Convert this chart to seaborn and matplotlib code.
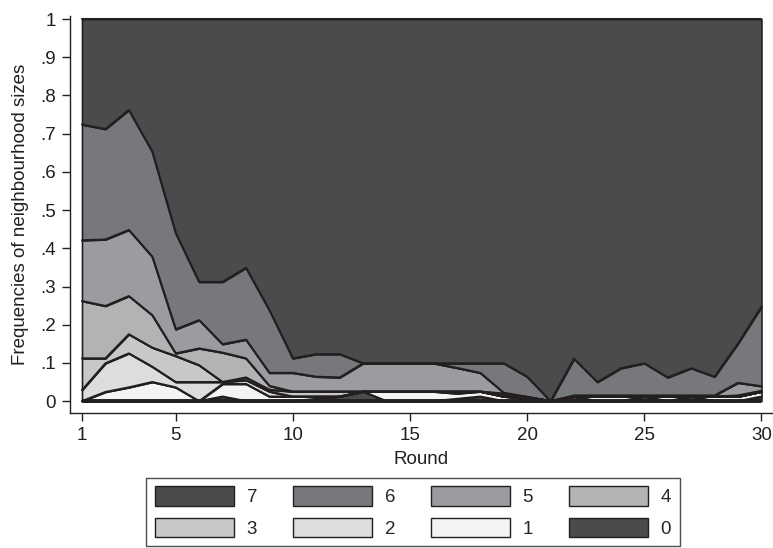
import numpy as np
import pandas as pd
import matplotlib
matplotlib.use("Agg")
import matplotlib.pyplot as plt
import seaborn as sns
from matplotlib.patches import Patch

# share of agents per neighbourhood size, rounds 1..30
rounds = list(range(1, 31))
freq_0 = [0, 0, 0, 0, 0, 0, .012, 0, 0, 0, .006, .012, .025, 0, 0,
          0, .006, .012, 0, 0, 0, .012, 0, 0, .012, 0, .012, 0, 0, .012]
freq_1 = [0, .024, .036, .05, .036, 0, .033, .045, .012, .012, .006, 0, 0, .025, .025,
          .025, .014, .013, .012, .005, 0, 0, .012, .012, 0, .012, 0, .012, .012, .013]
freq_2 = [.029, .075, .089, .04, .014, .05, .005, .01, .013, 0, 0, 0, 0, 0, 0,
          0, .005, 0, 0, .006, 0, 0, 0, 0, 0, 0, 0, 0, 0, 0]
freq_3 = [.083, .013, .05, .05, .068, .044, 0, .007, .005, .013, .013, .013, 0, 0, 0,
          0, 0, 0, .006, 0, 0, 0, 0, 0, 0, 0, 0, 0, 0, 0]
freq_4 = [.15, .137, .1, .085, .007, .044, .077, .05, .01, 0, 0, 0, 0, 0, 0,
          0, 0, 0, .002, 0, 0, 0, 0, 0, 0, 0, 0, 0, .003, .002]
freq_5 = [.159, .174, .173, .153, .063, .074, .022, .049, .034, .049, .039, .037, .074, .074, .074,
          .074, .062, .049, .002, 0, 0, .003, .003, .003, .003, .003, .003, .003, .033, .012]
freq_6 = [.303, .289, .314, .275, .252, .1, .163, .188, .164, .038, .059, .061, 0, 0, 0,
          0, .012, .025, .077, .053, 0, .096, .035, .071, .084, .047, .071, .049, .103, .208]
freq_7 = [.276, .288, .238, .347, .56, .688, .688, .651, .762, .888, .877, .877, .901, .901, .901,
          .901, .901, .901, .901, .936, 1, .889, .95, .914, .901, .938, .914, .936, .849, .753]

sizes = ['0', '1', '2', '3', '4', '5', '6', '7']
fills = ['#4a4b4d', '#f3f4f4', '#dcdddd', '#c7c8c9', '#b2b3b5', '#9b9c9f', '#77787b', '#4a4b4d']
x_ticks = [1, 5, 10, 15, 20, 25, 30]
y_ticks = [0, .1, .2, .3, .4, .5, .6, .7, .8, .9, 1]
y_labels = ['0', '.1', '.2', '.3', '.4', '.5', '.6', '.7', '.8', '.9', '1']

ink = '#231f20'

sns.set_theme(style="ticks")
plt.rcParams['font.family'] = ['Liberation Sans', 'DejaVu Sans']

fig = plt.figure(figsize=(7.73, 5.48), dpi=100)
ax = fig.add_axes([70 / 773, 135 / 548, 702 / 773, 397 / 548])

series = [freq_0, freq_1, freq_2, freq_3, freq_4, freq_5, freq_6, freq_7]
ax.stackplot(rounds, *series, colors=fills, edgecolor=ink, linewidth=1.2)

# boundary lines between the stacked areas
cum = np.cumsum(np.array(series), axis=0)
long = pd.DataFrame({
    'round': np.tile(rounds, len(sizes)),
    'level': cum.ravel(),
    'size': np.repeat(sizes, len(rounds)),
})
sns.lineplot(data=long, x='round', y='level', units='size', estimator=None,
             color=ink, lw=1.5, ax=ax, legend=False)
ax.hlines(0, rounds[0], rounds[-1], color=ink, lw=2.8)

ax.set_xlim(0.488, 30.45)
ax.set_ylim(-0.031, 1.008)
ax.set_xticks(x_ticks)
ax.set_yticks(y_ticks)
ax.set_yticklabels(y_labels)
sns.despine(ax=ax)
for s in ['left', 'bottom']:
    ax.spines[s].set_color(ink)
    ax.spines[s].set_linewidth(1.0)
ax.tick_params(direction='out', length=6, width=1, colors=ink, labelsize=13.5, pad=4)
ax.set_xlabel('Round', fontsize=13.5, color=ink, labelpad=5)
ax.set_ylabel('Frequencies of neighbourhood sizes', fontsize=13.5, color=ink, labelpad=8)

# legend rows read 7 6 5 4 / 3 2 1 0
order = [7, 3, 6, 2, 5, 1, 4, 0]
handles = [Patch(facecolor=fills[i], edgecolor=ink, linewidth=1.0) for i in order]
labels = [sizes[i] for i in order]
leg = fig.legend(handles, labels, loc='center', bbox_to_anchor=(413 / 773, 1 - 512 / 548),
                 ncol=4, frameon=True, fancybox=False, edgecolor=ink,
                 handlelength=4.2, handleheight=1.2, handletextpad=0.7,
                 columnspacing=1.9, fontsize=13.5, borderpad=0.45, labelspacing=0.6)
leg.get_frame().set_linewidth(1.0)

fig.savefig('out.png', dpi=100, facecolor='white')
